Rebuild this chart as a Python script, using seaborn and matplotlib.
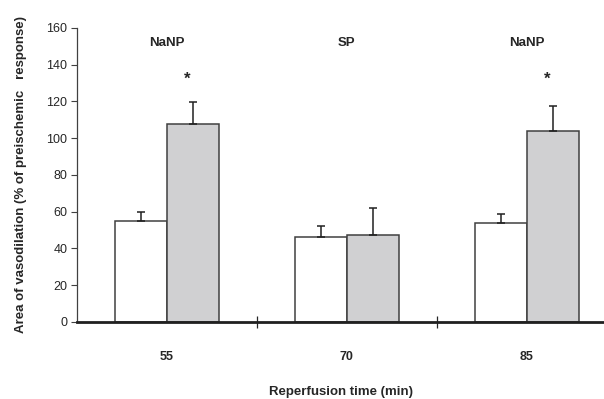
import pandas as pd
import matplotlib
matplotlib.use("Agg")
import matplotlib.pyplot as plt
import seaborn as sns

# Data
times = ["55", "70", "85"]
drugs = ["NaNP", "SP", "NaNP"]
groups = ["control", "treated"]
control_mean = [55, 46, 54]
control_err = [5, 6, 4.5]
treated_mean = [107.5, 47.5, 104]
treated_err = [12, 14.5, 13.5]
significant = [True, False, True]

df = pd.DataFrame({
    "time": times * 2,
    "group": [groups[0]] * 3 + [groups[1]] * 3,
    "value": control_mean + treated_mean,
})
errs = control_err + treated_err

sns.set_style("white")
plt.rcParams["font.family"] = ["Liberation Sans", "DejaVu Sans"]

fig = plt.figure(figsize=(6.04, 3.99), dpi=100)
ax = fig.add_axes([0.1275, 0.193, 0.8725, 0.737])

sns.barplot(data=df, x="time", y="value", hue="group", order=times,
            palette=["white", "#d0d0d2"], width=0.58, errorbar=None,
            edgecolor="#404040", linewidth=1.1, legend=False, ax=ax)

# upper error bars
bars = ax.patches[:6]
for p, e in zip(bars, errs):
    xc = p.get_x() + p.get_width() / 2
    ax.errorbar(xc, p.get_height(), yerr=[[0], [e]], fmt="none",
                ecolor="#202020", elinewidth=1.1, capsize=3, capthick=1.1)

# labels above the groups
for i, (d, s) in enumerate(zip(drugs, significant)):
    ax.text(i, 152, d, ha="center", va="center", fontsize=9.5, fontweight="bold")
    if s:
        xc = bars[3 + i].get_x() + bars[3 + i].get_width() / 2
        ax.text(xc - 0.03, 132, "*", ha="center", va="center", fontsize=12, fontweight="bold")

ax.set_xlim(-0.5, 2.43)
ax.set_ylim(0, 160)
ax.set_yticks(range(0, 161, 20))
ax.tick_params(axis="y", labelsize=9, direction="out", length=4, width=0.8,
               left=True, color="#404040", pad=3)
ax.tick_params(axis="x", which="major", length=0, pad=21, labelsize=9)
for lab in ax.get_xticklabels():
    lab.set_fontweight("bold")
ax.set_xticks([0.5, 1.5], minor=True)
ax.tick_params(axis="x", which="minor", direction="inout", length=9, width=0.9, bottom=True)

ax.set_xlabel("Reperfusion time (min)", fontsize=9.5, fontweight="bold")
ax.xaxis.set_label_coords(0.5, -0.218)
ax.set_ylabel("Area of vasodilation (% of preischemic   response)", fontsize=9.5,
              fontweight="bold", labelpad=14)

sns.despine(ax=ax)
ax.spines["left"].set_color("#404040")
ax.spines["left"].set_linewidth(0.9)
ax.spines["bottom"].set_color("#202020")
ax.spines["bottom"].set_linewidth(2)

fig.savefig("out.png", dpi=100)
